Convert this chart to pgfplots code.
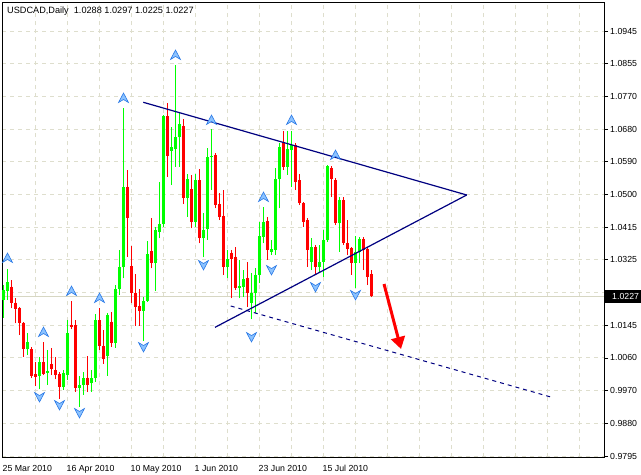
\documentclass[border=0pt]{standalone}
\usepackage{fontspec}
\setmainfont{Liberation Sans}
\usepackage{pgfplots}
\pgfplotsset{compat=1.18}
\usepackage{pgfplotstable}
\usetikzlibrary{arrows.meta}
\definecolor{bull}{RGB}{0,255,0}
\definecolor{bear}{RGB}{255,0,0}
\definecolor{tline}{RGB}{0,0,128}
\definecolor{gridc}{RGB}{222,222,205}
\definecolor{bidc}{RGB}{215,215,195}
\definecolor{frfill}{RGB}{140,195,255}
\definecolor{frdraw}{RGB}{40,120,230}

\pgfdeclareplotmark{fup}{%
  \pgfpathmoveto{\pgfqpoint{0pt}{5pt}}%
  \pgfpathlineto{\pgfqpoint{5pt}{-4.5pt}}%
  \pgfpathlineto{\pgfqpoint{0pt}{-1.5pt}}%
  \pgfpathlineto{\pgfqpoint{-5pt}{-4.5pt}}%
  \pgfpathclose
  \pgfusepathqfillstroke}
\pgfdeclareplotmark{fdown}{%
  \pgfpathmoveto{\pgfqpoint{0pt}{-5pt}}%
  \pgfpathlineto{\pgfqpoint{5pt}{4.5pt}}%
  \pgfpathlineto{\pgfqpoint{0pt}{1.5pt}}%
  \pgfpathlineto{\pgfqpoint{-5pt}{4.5pt}}%
  \pgfpathclose
  \pgfusepathqfillstroke}

\pgfplotstableread{
i o h l c
0 1.02171 1.02577 1.01685 1.02442
1 1.02423 1.03002 1.02171 1.02666
6 1.00837 1.01270 1.00683 1.01043
9 1.00123 1.00637 0.99754 1.00486
11 1.00204 1.00818 0.99871 1.00250
15 0.99825 1.00277 0.99736 1.00188
16 1.00142 1.01630 1.00006 1.01270
19 0.99798 1.00115 0.99284 0.99871
20 0.99871 1.00231 0.99601 1.00052
22 0.99917 1.00277 0.99690 1.00069
23 1.00052 1.01793 0.99960 1.01630
26 1.00656 1.01812 1.00115 1.01766
28 1.01000 1.02577 1.00873 1.02460
29 1.02460 1.03524 1.02307 1.03073
30 1.03056 1.07358 1.02758 1.05237
35 1.01882 1.02261 1.01070 1.02152
36 1.02152 1.03776 1.02125 1.03416
38 1.03165 1.04155 1.02423 1.04065
39 1.04019 1.05372 1.03840 1.04228
40 1.04228 1.07178 1.04155 1.07151
42 1.06211 1.06861 1.05283 1.06303
43 1.06249 1.08530 1.05779 1.06573
44 1.06573 1.07224 1.05779 1.06934
46 1.04940 1.05581 1.04426 1.05437
48 1.04290 1.05581 1.04155 1.05418
50 1.03840 1.04526 1.03326 1.04065
51 1.04092 1.06285 1.03795 1.06041
52 1.06032 1.06790 1.05148 1.06068
56 1.03056 1.03524 1.02758 1.03272
59 1.02487 1.03254 1.02217 1.02550
60 1.02531 1.02983 1.02261 1.02731
62 1.02098 1.02894 1.01649 1.02353
63 1.02353 1.03029 1.01812 1.02848
64 1.02848 1.04290 1.02623 1.03903
65 1.03884 1.04696 1.03706 1.04290
67 1.03478 1.03795 1.03389 1.03543
68 1.03524 1.05735 1.03389 1.05437
69 1.05437 1.06412 1.04652 1.06303
71 1.05779 1.06752 1.05554 1.06249
72 1.06230 1.06752 1.05237 1.06366
77 1.03208 1.03840 1.02983 1.03614
79 1.03073 1.03660 1.02937 1.03208
80 1.03208 1.04065 1.02802 1.03795
81 1.03795 1.05825 1.03749 1.05798
84 1.04247 1.04967 1.03478 1.04877
88 1.03165 1.03903 1.02487 1.03478
89 1.03478 1.03868 1.03165 1.03814
}\bull

\pgfplotstableread{
i o h l c
2 1.02531 1.02712 1.01946 1.02082
3 1.02098 1.02217 1.01541 1.01927
4 1.01963 1.01990 1.01224 1.01541
5 1.01557 1.01584 1.00637 1.00837
7 1.00845 1.00891 1.00052 1.00115
8 1.00169 1.00502 0.99844 1.00096
10 1.00494 1.01043 1.00142 1.00169
12 1.00440 1.00881 1.00142 1.00296
13 1.00277 1.00637 1.00025 1.00142
14 1.00169 1.00231 0.99501 0.99825
17 1.01495 1.02144 1.01378 1.01432
18 1.01495 1.01630 0.99690 0.99798
21 1.00069 1.00656 0.99690 0.99871
24 1.01630 1.01946 1.00818 1.00935
25 1.00927 1.01359 1.00440 1.00566
27 1.01584 1.01839 1.00900 1.01000
31 1.05237 1.05689 1.03343 1.04382
32 1.03092 1.03633 1.02082 1.02353
33 1.02369 1.02875 1.01468 1.01990
34 1.02009 1.02460 1.01468 1.01882
37 1.03505 1.04382 1.03029 1.03165
41 1.07151 1.07494 1.05508 1.06068
45 1.06880 1.07061 1.04769 1.04940
47 1.05166 1.05554 1.04111 1.04290
49 1.05418 1.05708 1.03706 1.03840
53 1.06095 1.06141 1.04652 1.04742
54 1.04769 1.05067 1.04336 1.04426
55 1.04445 1.05148 1.02848 1.03073
57 1.03451 1.03524 1.02217 1.03272
58 1.03343 1.03614 1.02442 1.02487
61 1.02758 1.03208 1.01990 1.02353
66 1.04309 1.04409 1.03254 1.03524
70 1.06455 1.06752 1.05689 1.05779
73 1.06366 1.06412 1.05148 1.05372
74 1.05418 1.05581 1.04742 1.04788
75 1.04788 1.04831 1.04155 1.04290
76 1.04336 1.04382 1.03073 1.03524
78 1.03614 1.03660 1.02848 1.03073
82 1.05735 1.05798 1.04967 1.05437
83 1.05418 1.05464 1.04201 1.04247
85 1.04877 1.04967 1.03660 1.03706
86 1.03706 1.04336 1.03389 1.03543
87 1.03570 1.03614 1.02848 1.03165
90 1.03814 1.03868 1.02983 1.03524
91 1.03543 1.03614 1.02577 1.02802
92 1.0288 1.0297 1.0225 1.0227
}\bear

\begin{document}
\begin{tikzpicture}
\useasboundingbox (0,0) rectangle (641bp,-475bp);
\begin{axis}[
  scale only axis,
  anchor=north west, at={(2bp,-3bp)},
  width=602bp, height=454bp,
  xmin=-0.375, xmax=150.125,
  ymin=0.97923, ymax=1.10208,
  axis line style={line width=1bp, black},
  xtick={8,16,...,144},
  xticklabels={,16 Apr 2010,,10 May 2010,,1 Jun 2010,,23 Jun 2010,,15 Jul 2010,,,,,,,,},
  extra x ticks={0},
  extra x tick labels={25 Mar 2010},
  extra x tick style={grid=none},
  xtick style={draw=none},
  xticklabel style={anchor=north west, inner sep=0pt, yshift=-4bp, xshift=-1bp, font=\fontsize{8.8}{10}\selectfont},
  ytick={1.0945,1.08565,1.07681,1.06796,1.05912,1.05027,1.04142,1.03258,1.02373,1.01488,1.00604,0.99719,0.98835,0.9795},
  yticklabels={1.0945,1.0855,1.0770,1.0680,1.0590,1.0500,1.0415,1.0325,,1.0145,1.0060,0.9970,0.9880,0.9795},
  ytick pos=right, yticklabel pos=right,
  tick align=outside, major tick length=4bp,
  ytick style={black, line width=0.8bp},
  yticklabel style={anchor=west, inner sep=0pt, xshift=2bp, font=\fontsize{8.8}{10}\selectfont},
  grid=major,
  major grid style={gridc, dash pattern=on 4bp off 4bp, line width=1bp},
]
% bid line
\addplot[bidc, line width=1bp, forget plot] coordinates {(-0.375,1.0227) (150.125,1.0227)};
\coordinate (bid) at (axis cs:150.125,1.0227);
% wicks (low to high)
\addplot[bull, line width=1.2bp, forget plot, quiver={u=0, v=\thisrow{h}-\thisrow{l}}]
  table[x=i, y=l] {\bull};
\addplot[bear, line width=1.2bp, forget plot, quiver={u=0, v=\thisrow{h}-\thisrow{l}}]
  table[x=i, y=l] {\bear};
% bodies (open to close)
\addplot[bull, line width=3bp, forget plot, quiver={u=0, v=\thisrow{c}-\thisrow{o}}]
  table[x=i, y=o] {\bull};
\addplot[bear, line width=3bp, forget plot, quiver={u=0, v=\thisrow{c}-\thisrow{o}}]
  table[x=i, y=o] {\bear};
% trend lines
\addplot[tline, line width=1.2bp] coordinates {(34.95,1.07521) (115.8,1.05013)};
\addplot[tline, line width=1.2bp] coordinates {(52.88,1.01432) (115.8,1.05013)};
\addplot[tline, line width=1bp, dash pattern=on 4bp off 4bp] coordinates {(56.8,1.02009) (136.85,0.99546)};
% red arrow
\addplot[bear, line width=3bp, -{Triangle[width=14bp,length=12bp]}] coordinates {(95.13,1.02604) (99.38,1.00845)};
% fractals
\addplot[only marks, mark=fup, mark options={fill=frfill, draw=frdraw, line width=0.6bp}]
  coordinates {(1,1.03308) (10,1.01305) (17,1.02415) (24,1.02225) (30,1.07637) (43,1.08801) (52,1.07042) (65,1.04958) (72,1.07042) (83,1.06095)};
\addplot[only marks, mark=fdown, mark options={fill=frfill, draw=frdraw, line width=0.6bp}]
  coordinates {(9,0.99546) (14,0.99330) (19,0.99114) (35,1.00899) (50,1.03119) (62,1.01170) (67,1.02983) (78,1.02523) (88,1.02307)};
\end{axis}
\fill[black] ([yshift=-6.5bp]bid) rectangle ([xshift=40bp,yshift=6.5bp]bid);
\node[anchor=west, text=white, inner sep=0pt, font=\fontsize{8.8}{10}\selectfont] at ([xshift=8bp]bid) {1.0227};
\node[anchor=west, inner sep=0pt, font=\fontsize{9.2}{10}\selectfont] at (7bp,-11bp) {USDCAD,Daily\ \ 1.0288 1.0297 1.0225 1.0227};
\end{tikzpicture}
\end{document}
